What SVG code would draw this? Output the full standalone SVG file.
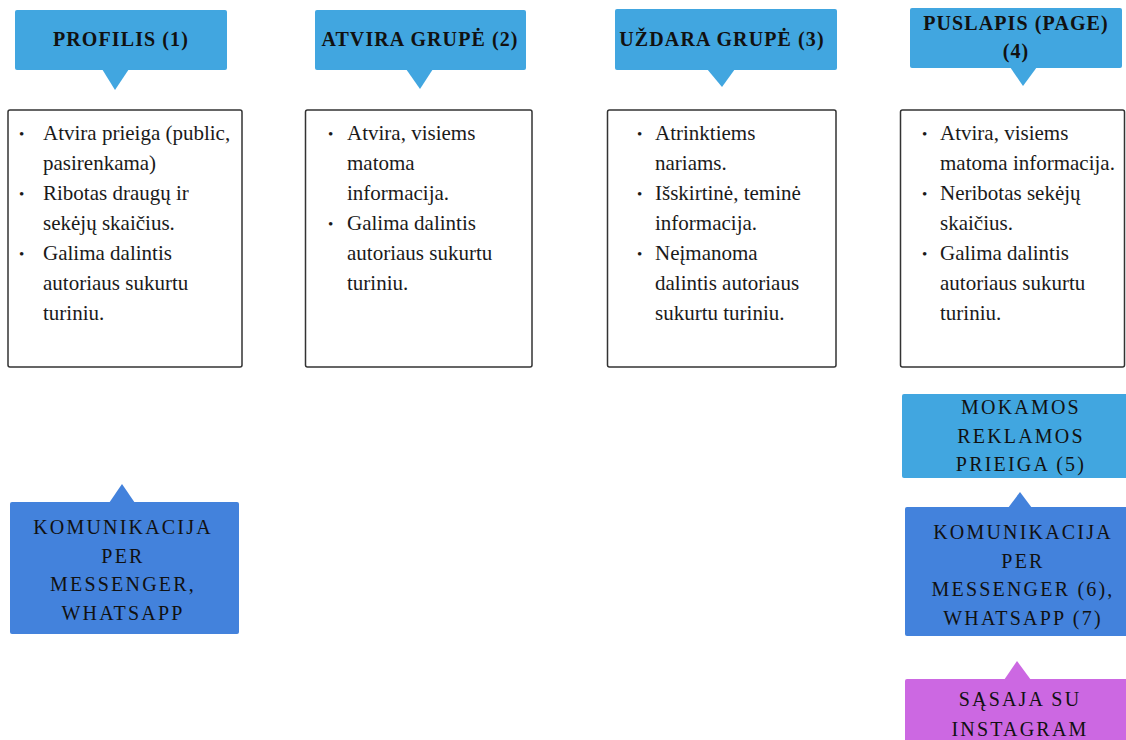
<svg xmlns="http://www.w3.org/2000/svg" width="1126" height="740" viewBox="0 0 1126 740">
<style>
.hdr{fill:#41A6E0}
.com{fill:#4382DC}
.pur{fill:#CC68E2}
.box{fill:#fff;stroke:#333;stroke-width:1.5}
.ht{font-family:"Liberation Serif",serif;font-weight:bold;font-size:20px;letter-spacing:1.1px;fill:#111;text-anchor:middle}
.bt{font-family:"Liberation Serif",serif;font-size:21px;fill:#1a1a1a}
.bu{font-family:"Liberation Serif",serif;font-size:15px;fill:#1a1a1a}
.ct{font-family:"Liberation Serif",serif;font-size:20px;letter-spacing:2.2px;fill:#111;text-anchor:middle}
</style>
<rect width="1126" height="740" fill="#fff"/>
<g id="connectors"></g>

<g id="h1">
<rect class="hdr" x="15" y="10" width="212" height="60" rx="2"/>
<polygon class="hdr" points="102,69 129,69 115,90"/>
<text class="ht" x="121" y="46">PROFILIS (1)</text>
</g>
<g id="h2">
<rect class="hdr" x="315" y="10" width="211" height="60" rx="2"/>
<polygon class="hdr" points="406,69 433,69 420,89"/>
<text class="ht" x="420" y="46">ATVIRA GRUPĖ (2)</text>
</g>
<g id="h3">
<rect class="hdr" x="615" y="9" width="222" height="61" rx="2"/>
<polygon class="hdr" points="707,69 735,69 722,87"/>
<text class="ht" x="722" y="46">UŽDARA GRUPĖ (3)</text>
</g>
<g id="h4">
<rect class="hdr" x="910" y="8" width="212" height="60" rx="2"/>
<polygon class="hdr" points="1010,67 1037,67 1023,86"/>
<text class="ht" x="1016" y="30">PUSLAPIS (PAGE)</text>
<text class="ht" x="1016" y="58">(4)</text>
</g>

<g id="b1">
<rect class="box" x="8" y="110" width="234" height="257" rx="2"/>
<text class="bu" x="19" y="139">•</text>
<text class="bu" x="19" y="199">•</text>
<text class="bu" x="19" y="259">•</text>
<text class="bt" x="43" y="140">Atvira prieiga (public,</text>
<text class="bt" x="43" y="170">pasirenkama)</text>
<text class="bt" x="43" y="200">Ribotas draugų ir</text>
<text class="bt" x="43" y="230">sekėjų skaičius.</text>
<text class="bt" x="43" y="260">Galima dalintis</text>
<text class="bt" x="43" y="290">autoriaus sukurtu</text>
<text class="bt" x="43" y="320">turiniu.</text>
</g>
<g id="b2">
<rect class="box" x="305.5" y="110" width="226.5" height="257" rx="2"/>
<text class="bu" x="328" y="139">•</text>
<text class="bu" x="328" y="229">•</text>
<text class="bt" x="347" y="140">Atvira, visiems</text>
<text class="bt" x="347" y="170">matoma</text>
<text class="bt" x="347" y="200">informacija.</text>
<text class="bt" x="347" y="230">Galima dalintis</text>
<text class="bt" x="347" y="260">autoriaus sukurtu</text>
<text class="bt" x="347" y="290">turiniu.</text>
</g>
<g id="b3">
<rect class="box" x="607.5" y="110" width="228.5" height="257" rx="2"/>
<text class="bu" x="637" y="139">•</text>
<text class="bu" x="637" y="199">•</text>
<text class="bu" x="637" y="259">•</text>
<text class="bt" x="655" y="140">Atrinktiems</text>
<text class="bt" x="655" y="170">nariams.</text>
<text class="bt" x="655" y="200">Išskirtinė, teminė</text>
<text class="bt" x="655" y="230">informacija.</text>
<text class="bt" x="655" y="260">Neįmanoma</text>
<text class="bt" x="655" y="290">dalintis autoriaus</text>
<text class="bt" x="655" y="320">sukurtu turiniu.</text>
</g>
<g id="b4">
<rect class="box" x="900.5" y="110" width="224" height="257" rx="2"/>
<text class="bu" x="922" y="139">•</text>
<text class="bu" x="922" y="199">•</text>
<text class="bu" x="922" y="259">•</text>
<text class="bt" x="940" y="140">Atvira, visiems</text>
<text class="bt" x="940" y="170">matoma informacija.</text>
<text class="bt" x="940" y="200">Neribotas sekėjų</text>
<text class="bt" x="940" y="230">skaičius.</text>
<text class="bt" x="940" y="260">Galima dalintis</text>
<text class="bt" x="940" y="290">autoriaus sukurtu</text>
<text class="bt" x="940" y="320">turiniu.</text>
</g>

<g id="c1">
<polygon class="com" points="109,503 135,503 122,484"/>
<rect class="com" x="10" y="502" width="229" height="132" rx="2"/>
<text class="ct" x="123" y="534">KOMUNIKACIJA</text>
<text class="ct" x="123" y="563">PER</text>
<text class="ct" x="123" y="591">MESSENGER,</text>
<text class="ct" x="123" y="620">WHATSAPP</text>
</g>

<g id="m5">
<rect class="hdr" x="902" y="394" width="240" height="84" rx="2"/>
<text class="ct" x="1021" y="414">MOKAMOS</text>
<text class="ct" x="1021" y="443">REKLAMOS</text>
<text class="ct" x="1021" y="471">PRIEIGA (5)</text>
</g>

<g id="c2">
<polygon class="com" points="1008,508 1032,508 1020,492"/>
<rect class="com" x="905" y="507" width="240" height="129" rx="2"/>
<text class="ct" x="1023" y="539">KOMUNIKACIJA</text>
<text class="ct" x="1023" y="568">PER</text>
<text class="ct" x="1023" y="596">MESSENGER (6),</text>
<text class="ct" x="1023" y="625">WHATSAPP (7)</text>
</g>

<g id="s8">
<polygon class="pur" points="1004,680 1031,680 1017,661"/>
<rect class="pur" x="905" y="679" width="240" height="80" rx="2"/>
<text class="ct" x="1020" y="706">SĄSAJA SU</text>
<text class="ct" x="1020" y="736">INSTAGRAM</text>
</g>
</svg>
